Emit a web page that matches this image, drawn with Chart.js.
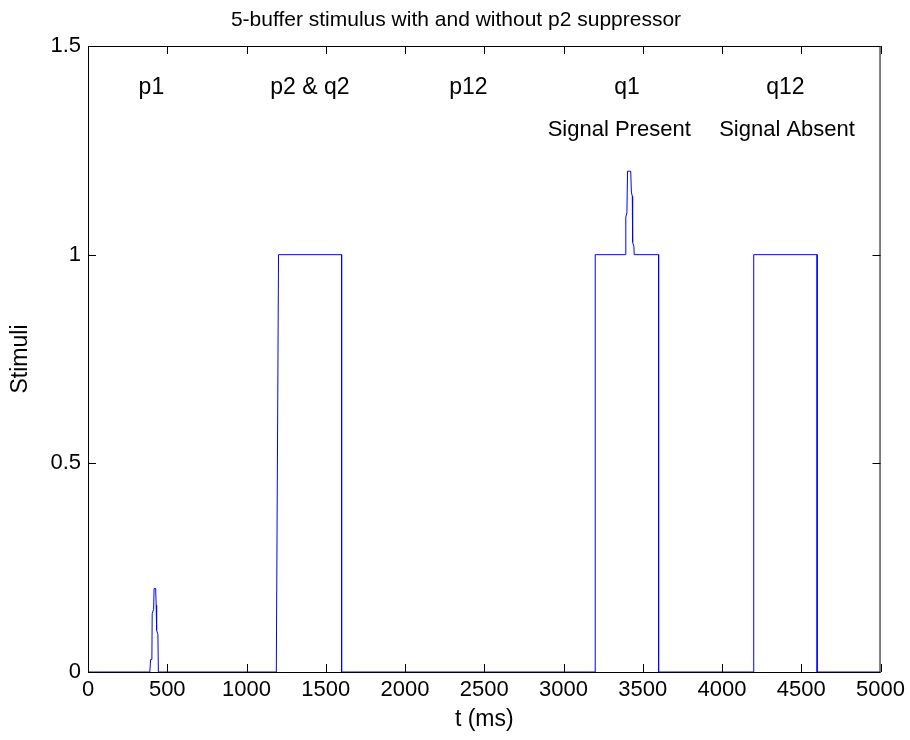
<!DOCTYPE html>
<html>
<head>
<meta charset="utf-8">
<script src="https://cdn.jsdelivr.net/npm/chart.js@4.4.0/dist/chart.umd.min.js"></script>
<style>
  body { margin: 0; background: #fff; }
  #wrap { width: 910px; height: 740px; }
</style>
</head>
<body>
<div id="wrap"><canvas id="stim" width="910" height="740"></canvas></div>
<script>
// stimulus trace (t in ms)
const tValues = [0, 390, 395, 403, 405, 414, 417, 427, 430, 433, 441, 444,
  1188, 1202, 1600, 1600,
  3200, 3200, 3390, 3392, 3394, 3400, 3404, 3424, 3428, 3434, 3436, 3444, 3446, 3600, 3600,
  4200, 4200, 4600, 4600, 5000];
const stimValues = [0, 0, 0.03, 0.03, 0.14, 0.15, 0.2, 0.2, 0.16, 0.1, 0.09, 0,
  0, 1, 1, 0,
  0, 1, 1, 1.02, 1.09, 1.1, 1.2, 1.2, 1.15, 1.14, 1.03, 1.02, 1, 1, 0,
  0, 1, 1, 0, 0];

const xTicks = [0, 500, 1000, 1500, 2000, 2500, 3000, 3500, 4000, 4500, 5000];
const yTicks = [0, 0.5, 1, 1.5];

// text labels inside the axes
const labelText = ["p1", "p2 & q2", "p12", "q1", "q12"];
const labelT = [400, 1400, 2400, 3400, 4400];
const labelY = 1.4;
const noteText = ["Signal Present", "Signal Absent"];
const noteT = [2900, 4410];
const noteY = 1.3;

const FAMILY = '"Liberation Sans", Arial, sans-serif';

const points = tValues.map((t, i) => ({ x: t, y: stimValues[i] }));

const matlabAxes = {
    id: 'matlabAxes',
    beforeDatasetsDraw(chart) {
        const { ctx, chartArea: a, scales } = chart;
        ctx.save();
        ctx.strokeStyle = '#000';
        ctx.lineWidth = 1;
        ctx.strokeRect(a.left + 0.5, a.top + 0.5, a.right - a.left - 1, a.bottom - a.top);
        ctx.beginPath();
        for (const v of xTicks) {
            const px = Math.round(scales.x.getPixelForValue(v)) + 0.5;
            ctx.moveTo(px, a.bottom); ctx.lineTo(px, a.bottom - 8);
            ctx.moveTo(px, a.top); ctx.lineTo(px, a.top + 8);
        }
        for (const v of yTicks) {
            const py = Math.round(scales.y.getPixelForValue(v)) + 0.5;
            ctx.moveTo(a.left, py); ctx.lineTo(a.left + 8, py);
            ctx.moveTo(a.right, py); ctx.lineTo(a.right - 8, py);
        }
        ctx.stroke();
        ctx.restore();
    },
    afterDatasetsDraw(chart) {
        const { ctx, chartArea: a, scales } = chart;
        ctx.save();
        ctx.fillStyle = '#000';
        ctx.font = '23px ' + FAMILY;
        ctx.textBaseline = 'middle';
        ctx.textAlign = 'center';
        labelText.forEach((s, i) => {
            ctx.fillText(s, scales.x.getPixelForValue(labelT[i]), scales.y.getPixelForValue(labelY));
        });
        ctx.font = '22px ' + FAMILY;
        noteText.forEach((s, i) => {
            ctx.textAlign = i === 0 ? 'left' : 'center';
            ctx.fillText(s, scales.x.getPixelForValue(noteT[i]), scales.y.getPixelForValue(noteY));
        });
        // axis titles
        ctx.font = '23px ' + FAMILY;
        ctx.textAlign = 'center';
        ctx.fillText('t (ms)', (a.left + a.right) / 2, 720);
        ctx.translate(21, (a.top + a.bottom) / 2);
        ctx.rotate(-Math.PI / 2);
        ctx.fillText('Stimuli', 0, 0);
        ctx.restore();
        // title
        ctx.save();
        ctx.font = '21px ' + FAMILY;
        ctx.textAlign = 'center';
        ctx.textBaseline = 'middle';
        ctx.fillText('5-buffer stimulus with and without p2 suppressor', 456, 20);
        ctx.restore();
    }
};

new Chart(document.getElementById('stim'), {
    type: 'line',
    data: {
        datasets: [{
            data: points,
            borderColor: '#0000ff',
            borderWidth: 1,
            pointRadius: 0,
            tension: 0,
            fill: false
        }]
    },
    options: {
        responsive: false,
        animation: false,
        layout: { padding: { top: 46, right: 29, left: 0, bottom: 0 } },
        plugins: { legend: { display: false }, tooltip: { enabled: false } },
        scales: {
            x: {
                type: 'linear',
                min: 0, max: 5000,
                afterBuildTicks: s => { s.ticks = xTicks.map(v => ({ value: v })); },
                afterFit: s => { s.height = 68; },
                grid: { display: false, drawTicks: false },
                border: { display: false },
                ticks: {
                    color: '#000', padding: 5,
                    font: { family: FAMILY, size: 22 },
                    maxRotation: 0, autoSkip: false,
                    callback: v => String(v)
                }
            },
            y: {
                type: 'linear',
                min: 0, max: 1.5,
                afterBuildTicks: s => { s.ticks = yTicks.map(v => ({ value: v })); },
                afterFit: s => { s.width = 88; },
                grid: { display: false, drawTicks: false },
                border: { display: false },
                ticks: {
                    color: '#000', padding: 7,
                    font: { family: FAMILY, size: 22 },
                    callback: v => String(v)
                }
            }
        }
    },
    plugins: [matlabAxes]
});
</script>
</body>
</html>
